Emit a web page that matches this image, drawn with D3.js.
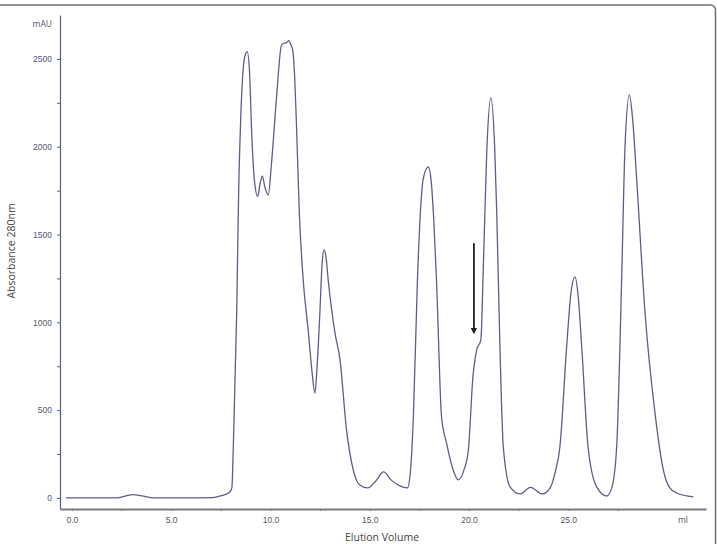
<!DOCTYPE html>
<html>
<head>
<meta charset="utf-8">
<script src="https://cdn.jsdelivr.net/npm/d3@7"></script>
<style>
  body { margin: 0; background: #fff; }
  svg { display: block; font-family: 'Open Sans', 'DejaVu Sans', sans-serif; }
</style>
</head>
<body>
<div id="wrapper"></div>
<script>
// chromatogram readings: elution volume (ml) and absorbance (mAU)
const elutionVolume = [
  -0.3, 1.0, 2.2, 2.6, 3.07, 3.6, 4.1, 5.5, 7.1, 7.5, 7.96, 8.06, 8.13, 8.3, 8.4,
  8.5, 8.6, 8.7, 8.83, 8.95, 9.05, 9.2, 9.36, 9.48, 9.59, 9.72, 9.89, 10.05, 10.31,
  10.56, 10.7, 10.82, 10.93, 11.03, 11.12, 11.22, 11.32, 11.45, 11.65, 11.9, 12.1,
  12.24, 12.35, 12.49, 12.6, 12.7, 12.8, 12.91, 13.25, 13.5, 13.84, 14.17, 14.5,
  14.9, 15.3, 15.7, 16.1, 16.5, 16.9, 17.05, 17.2, 17.4, 17.55, 17.7, 17.95, 18.1,
  18.22, 18.37, 18.62, 18.87, 19.2, 19.46, 19.75, 19.97, 20.2, 20.39, 20.6, 20.72,
  20.9, 21.1, 21.3, 21.4, 21.56, 21.73, 22.07, 22.57, 23.1, 23.7, 24.1, 24.35,
  24.58, 24.92, 25.15, 25.34, 25.5, 25.68, 26.0, 26.43, 26.94, 27.2, 27.44, 27.69,
  27.86, 28.08, 28.25, 28.45, 28.87, 29.37, 29.79, 30.1, 30.46, 31.3
]
const absorbance = [
  0, 0, 0, 8, 19, 10, 0, 0, 2, 12, 34, 60, 290, 1053, 1750,
  2150, 2400, 2510, 2542, 2420, 2096, 1800, 1716, 1790, 1834, 1770, 1725, 1900, 2285,
  2580, 2590, 2593, 2604, 2580, 2551, 2400, 2096, 1640, 1241, 957, 712,
  598, 750, 1053, 1330, 1412, 1370, 1241, 940, 790, 380, 160, 74,
  57, 95, 148, 100, 70, 57, 150, 461, 1224, 1620, 1820, 1885, 1800,
  1600, 1224, 461, 313, 160, 103, 160, 273, 690, 843, 900, 1300,
  1982, 2278, 1982, 1623, 860, 290, 63, 23, 60, 23, 60, 150,
  290, 860, 1180, 1259, 1150, 860, 290, 63, 11, 60, 290, 1241,
  2000, 2295, 2150, 1811, 1053, 484, 160, 60, 28, 6
]
const xTicks = [0, 5, 10, 15, 20, 25]
const xMinorTicks = [2.5, 7.5, 12.5, 17.5, 22.5, 27.5]
const yTicks = [0, 500, 1000, 1500, 2000, 2500]
const yMinorTicks = [250, 750, 1250, 1750, 2250]
const arrowAt = { volume: 20.25, from: 1450, to: 950 }

const dataset = elutionVolume.map((v, i) => ({ v, a: absorbance[i] }))

const width = 717
const height = 544

const xScale = d3.scaleLinear().domain([-0.6, 31.94]).range([60, 706])
const yScale = d3.scaleLinear().domain([-63, 2750]).range([509, 15])

const svg = d3
  .select('#wrapper')
  .append('svg')
  .attr('width', width)
  .attr('height', height)

// frame of the figure (only top & right edge visible)
svg
  .append('rect')
  .attr('x', -20)
  .attr('y', 5)
  .attr('width', 735.5)
  .attr('height', 600)
  .attr('rx', 5)
  .attr('fill', 'none')
  .attr('stroke', '#6f6f6f')
  .attr('stroke-width', 1.5)

// y axis
const yAxis = svg
  .append('g')
  .attr('transform', 'translate(60,0)')
  .call(
    d3.axisLeft(yScale).tickValues(yTicks).tickSize(3).tickSizeOuter(0).tickFormat(d3.format('d'))
  )
yAxis.select('.domain').attr('stroke', '#5b5b8f').attr('stroke-width', 1.2)
yAxis.selectAll('.tick line').attr('stroke', '#5b5b8f')
yAxis
  .selectAll('.tick text')
  .attr('x', -8)
  .attr('fill', '#55557a')
  .attr('font-size', 8.5)

svg
  .append('g')
  .attr('transform', 'translate(60,0)')
  .call(d3.axisLeft(yScale).tickValues(yMinorTicks).tickSize(3).tickFormat(''))
  .call((g) => g.select('.domain').remove())
  .selectAll('line')
  .attr('stroke', '#5b5b8f')

svg
  .append('text')
  .attr('x', 52)
  .attr('y', 27)
  .attr('text-anchor', 'end')
  .attr('font-size', 8.5)
  .attr('fill', '#55557a')
  .text('mAU')

svg
  .append('text')
  .attr('transform', 'translate(15,251) rotate(-90)')
  .attr('text-anchor', 'middle')
  .attr('font-size', 10.5)
  .attr('fill', '#444')
  .text('Absorbance 280nm')

// x axis
const xAxis = svg
  .append('g')
  .attr('transform', 'translate(0,509)')
  .call(
    d3.axisBottom(xScale).tickValues(xTicks).tickSize(2).tickSizeOuter(0).tickFormat(d3.format('.1f'))
  )
xAxis.select('.domain').attr('stroke', '#7a7a7a').attr('stroke-width', 2.2)
xAxis.selectAll('.tick line').attr('stroke', '#7a7a7a')
xAxis
  .selectAll('.tick text')
  .attr('y', 8)
  .attr('fill', '#555')
  .attr('font-size', 8.5)

svg
  .append('g')
  .attr('transform', 'translate(0,509)')
  .call(d3.axisBottom(xScale).tickValues(xMinorTicks).tickSize(2).tickFormat(''))
  .call((g) => g.select('.domain').remove())
  .selectAll('line')
  .attr('stroke', '#7a7a7a')

svg
  .append('text')
  .attr('x', 683)
  .attr('y', 523)
  .attr('text-anchor', 'middle')
  .attr('font-size', 8.5)
  .attr('fill', '#555')
  .text('ml')

svg
  .append('text')
  .attr('x', 382)
  .attr('y', 541)
  .attr('text-anchor', 'middle')
  .attr('font-size', 10.5)
  .attr('fill', '#444')
  .text('Elution Volume')

// trace
const line = d3
  .line()
  .x((d) => xScale(d.v))
  .y((d) => yScale(d.a))
  .curve(d3.curveMonotoneX)

svg
  .append('path')
  .datum(dataset)
  .attr('d', line)
  .attr('fill', 'none')
  .attr('stroke', '#5c5c8e')
  .attr('stroke-width', 1.3)
  .attr('stroke-linejoin', 'round')

// arrow marking the shoulder
svg
  .append('defs')
  .append('marker')
  .attr('id', 'head')
  .attr('viewBox', '0 0 10 10')
  .attr('refX', 5)
  .attr('refY', 5)
  .attr('markerWidth', 3.5)
  .attr('markerHeight', 3.5)
  .attr('orient', 'auto')
  .append('path')
  .attr('d', 'M0,0L10,5L0,10z')
  .attr('fill', '#222')

svg
  .append('line')
  .attr('x1', xScale(arrowAt.volume))
  .attr('x2', xScale(arrowAt.volume))
  .attr('y1', yScale(arrowAt.from))
  .attr('y2', yScale(arrowAt.to))
  .attr('stroke', '#222')
  .attr('stroke-width', 1.8)
  .attr('marker-end', 'url(#head)')
</script>
</body>
</html>
